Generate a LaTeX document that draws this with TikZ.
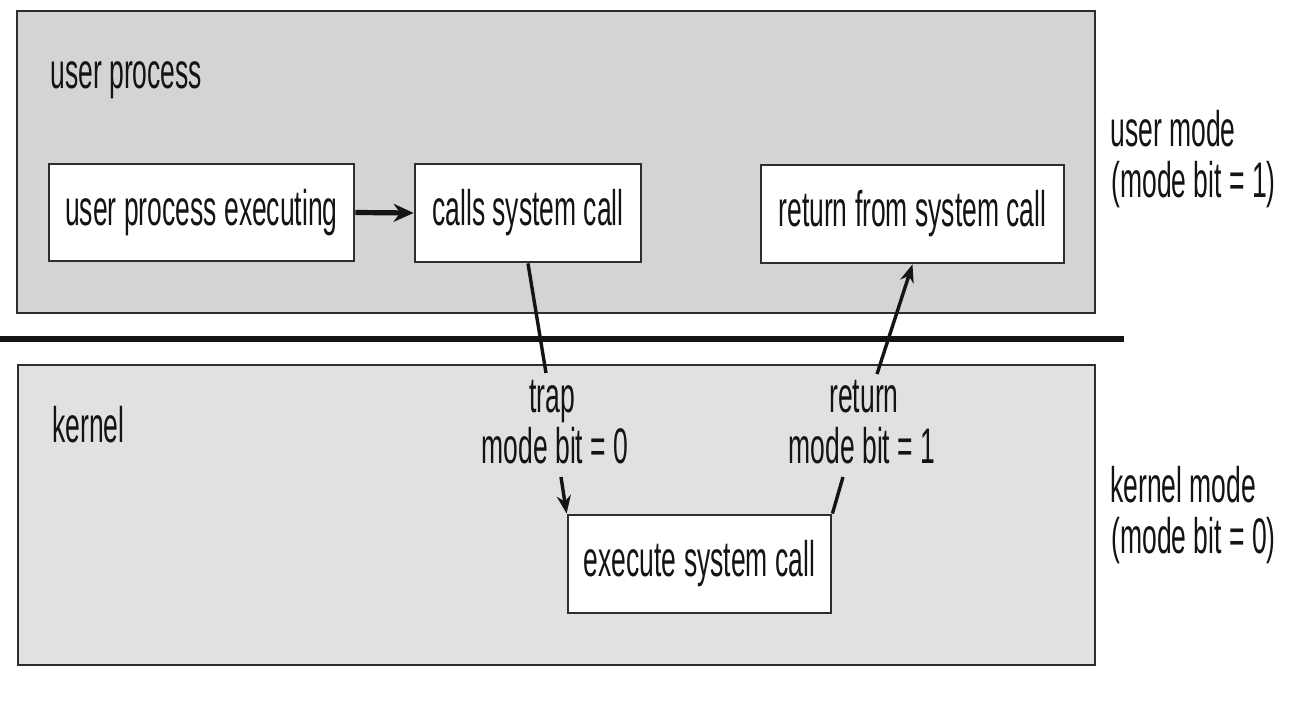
\documentclass[tikz,border=0pt]{standalone}
\usepackage{fontspec}
\setmainfont{Liberation Sans}[FakeStretch=0.53]
\usetikzlibrary{arrows.meta}
\definecolor{userbg}{HTML}{D4D4D4}
\definecolor{kernbg}{HTML}{E1E1E1}
\definecolor{ink}{HTML}{141414}
\definecolor{edge}{HTML}{2E2E2E}
\begin{document}
\begin{tikzpicture}[x=0.5pt,y=-0.5pt,
  font=\fontsize{25}{30}\selectfont, text=ink,
  region/.style={draw=edge, line width=1.1pt, inner sep=0pt},
  stepbox/.style={draw=edge, fill=white, line width=1.4pt, inner sep=0pt},
  lbl/.style={inner sep=0pt},
  flow/.style={draw=ink, line width=1.7pt},
  tip/.style={-{Stealth[length=9pt,width=7pt]}}
]
\useasboundingbox (0,0) rectangle (1303,701);
\fill[white] (0,0) rectangle (1303,701);

% regions
\node[region, fill=userbg, minimum width=539pt, minimum height=151pt] (user) at (556,162) {};
\node[region, fill=kernbg, minimum width=538.5pt, minimum height=150pt] (kern) at (556.5,515) {};
\draw[ink, line width=2.6pt] (0,339) -- (1124,339);

% region labels
\node[lbl, anchor=base west] (uplbl) at (50,89) {user process};
\node[lbl, anchor=base west] (klbl) at (52,442) {kernel};

% mode labels
\node[lbl, anchor=base west] (um1) at (1110,147) {user mode};
\node[lbl, anchor=base west] (um2) at (1111,198) {(mode bit = 1)};
\node[lbl, anchor=base west] (km1) at (1110,502) {kernel mode};
\node[lbl, anchor=base west] (km2) at (1111,553) {(mode bit = 0)};

% step boxes
\node[stepbox, minimum width=152.5pt, minimum height=48.5pt] (exec) at (201.5,212.5) {user process executing};
\node[stepbox, minimum width=113pt, minimum height=49pt] (calls) at (528,213) {calls system call};
\node[stepbox, minimum width=151.5pt, minimum height=49pt] (ret) at (912.5,214) {return from system call};
\node[stepbox, minimum width=131.5pt, minimum height=49pt] (kexec) at (699.5,564) {execute system call};

% trap / return labels
\node[lbl, anchor=base] (trapA) at (552,412) {trap};
\node[lbl, anchor=base] (trapB) at (555,463) {mode bit = 0};
\node[lbl, anchor=base] (retA) at (864,412) {return};
\node[lbl, anchor=base] (retB) at (862,463) {mode bit = 1};

% connectors
\draw[ink, line width=2.6pt, -{Stealth[length=10pt,width=9pt]}] (exec.east) -- (calls.west);

\coordinate (t1) at (546,373);
\coordinate (t2) at (561,477);
\draw[flow] (calls.south) -- (t1);
\draw[flow, tip] (t2) -- (kexec.north west);

\coordinate (r1) at (843,477);
\coordinate (r2) at (877,374);
\draw[flow] (kexec.north east) -- (r1);
\draw[flow, tip] (r2) -- (ret.south);
\end{tikzpicture}
\end{document}
